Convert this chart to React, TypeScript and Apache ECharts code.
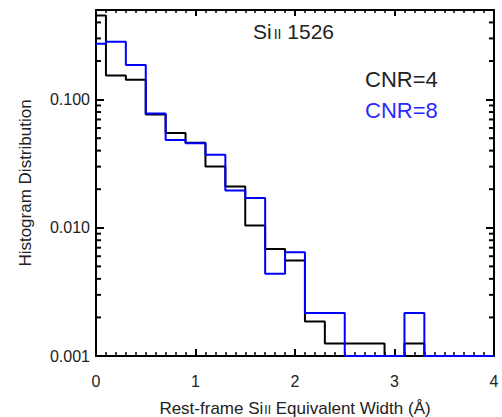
import React, { useEffect, useRef } from "react";
import * as echarts from "echarts";

// Bin centres (Å) – histogram drawn IDL psym=10 style (steps at bin mid-points)
const BIN_CENTERS = [0, 0.2, 0.4, 0.6, 0.8, 1.0, 1.2, 1.4, 1.6, 1.8, 2.0, 2.2, 2.4, 2.6, 2.8, 3.0, 3.2, 3.4, 3.6, 3.8, 4.0];
// Histogram distributions (0 = empty bin, drawn on the axis floor)
const CNR4 = [0.452, 0.154, 0.143, 0.0764, 0.055, 0.046, 0.0301, 0.021, 0.0104, 0.00684, 0.00556, 0.00186, 0.00125, 0.00125, 0.00125, 0, 0.00125, 0, 0, 0, 0];
const CNR8 = [0.273, 0.283, 0.186, 0.0778, 0.0485, 0.0456, 0.0371, 0.0195, 0.0171, 0.00438, 0.00645, 0.00216, 0.00216, 0, 0, 0, 0.00216, 0, 0, 0, 0];

const SERIES_NAMES = ["CNR=4", "CNR=8"];
const Y_MIN = 0.001;
const Y_MAX = 0.5;
const DECADES = [0.001, 0.01, 0.1];
const MINOR_MULTS = [2, 3, 4, 5, 6, 7, 8, 9];
const X_TICK_LABELS = ["0", "1", "2", "3", "4"];

const FONT = "Liberation Sans, Arial, Helvetica, sans-serif";
const TXT = "#222";
const BLUE = "#0000ff";

export default function App() {
  const ref = useRef<HTMLDivElement>(null);
  useEffect(() => {
    if (!ref.current) return;
    const chart = echarts.init(ref.current, null, { renderer: "svg" });
    const floorIt = (arr: number[]) => arr.map((v, i) => [BIN_CENTERS[i], v > 0 ? v : Y_MIN]);
    const minorTicks: number[][] = [];
    DECADES.forEach((d) =>
      MINOR_MULTS.forEach((m) => {
        const v = d * m;
        if (v < Y_MAX) minorTicks.push([0, v]);
      })
    );
    const xAxisBase = {
      type: "value",
      min: 0,
      max: 4,
      interval: 1,
      axisLine: { show: true, onZero: false, lineStyle: { color: "#000", width: 2 } },
      axisTick: { show: true, inside: true, length: 7, lineStyle: { color: "#000", width: 2 } },
      minorTick: { show: true, splitNumber: 10, length: 4, lineStyle: { color: "#000", width: 1.5 } },
      splitLine: { show: false },
      minorSplitLine: { show: false },
    };
    const yAxisBase = {
      type: "log",
      logBase: 10,
      min: Y_MIN,
      max: Y_MAX,
      interval: 1,
      axisLine: { show: true, onZero: false, lineStyle: { color: "#000", width: 2 } },
      axisTick: { show: true, inside: true, length: 8, lineStyle: { color: "#000", width: 2 } },
      splitLine: { show: false },
    };
    const option: any = {
      animation: false,
      backgroundColor: "#fff",
      textStyle: { fontFamily: FONT },
      grid: { left: 96, right: 8, top: 10, bottom: 61, containLabel: false, outerBoundsMode: "none" },
      title: {
        text: "{a|Si}{b|II}{a| 1526}",
        left: 253,
        top: 21,
        padding: 0,
        textStyle: {
          fontWeight: "normal",
          rich: {
            a: { fontSize: 21, color: TXT, fontFamily: FONT, fontWeight: "normal" },
            b: { fontSize: 14, color: TXT, fontFamily: FONT, fontWeight: "normal", padding: [4, 0, 0, 2] },
          },
        },
      },
      legend: {
        orient: "vertical",
        left: 355,
        top: 63,
        icon: "none",
        itemWidth: 0,
        itemHeight: 22,
        itemGap: 9,
        selectedMode: false,
        data: [
          { name: SERIES_NAMES[0], textStyle: { color: TXT, fontSize: 22, fontFamily: FONT } },
          { name: SERIES_NAMES[1], textStyle: { color: "#2a2aff", fontSize: 22, fontFamily: FONT } },
        ],
        textStyle: { fontSize: 22, fontFamily: FONT },
      },
      xAxis: [
        {
          ...xAxisBase,
          position: "bottom",
          name: "{n|Rest-frame Si}{s|II}{n| Equivalent Width (Å)}",
          nameLocation: "middle",
          nameGap: 44,
          nameTextStyle: {
            rich: {
              n: { fontSize: 17, color: TXT, fontFamily: FONT },
              s: { fontSize: 12, color: TXT, fontFamily: FONT, padding: [3, 0, 0, 1] },
            },
          },
          axisLabel: {
            show: true,
            margin: 17,
            fontSize: 16,
            color: TXT,
            fontFamily: FONT,
            formatter: (v: number) => X_TICK_LABELS[Math.round(v)] ?? "",
          },
        },
        {
          ...xAxisBase,
          position: "top",
          axisTick: { ...xAxisBase.axisTick, length: 6 },
          minorTick: { ...xAxisBase.minorTick, length: 3 },
          axisLabel: { show: false },
        },
      ],
      yAxis: [
        {
          ...yAxisBase,
          position: "left",
          name: "Histogram Distribution",
          nameLocation: "middle",
          nameGap: 62,
          nameRotate: 90,
          nameTextStyle: { fontSize: 17, color: TXT, fontFamily: FONT },
          axisLabel: {
            show: true,
            margin: 6,
            fontSize: 16,
            color: TXT,
            fontFamily: FONT,
            showMaxLabel: false,
            formatter: (v: number) => v.toFixed(3),
          },
        },
        {
          ...yAxisBase,
          position: "right",
          axisLabel: { show: false },
        },
      ],
      series: [
        {
          name: SERIES_NAMES[0],
          type: "line",
          step: "middle",
          data: floorIt(CNR4),
          showSymbol: false,
          symbol: "none",
          lineStyle: { color: "#000", width: 2 },
          itemStyle: { color: "#000" },
          z: 3,
        },
        {
          name: SERIES_NAMES[1],
          type: "line",
          step: "middle",
          data: floorIt(CNR8),
          showSymbol: false,
          symbol: "none",
          lineStyle: { color: BLUE, width: 2 },
          itemStyle: { color: BLUE },
          z: 4,
        },
        {
          name: "minorTicks",
          type: "custom",
          silent: true,
          data: minorTicks,
          renderItem: (params: any, api: any) => {
            const y = api.coord([0, api.value(1)])[1];
            const cs = params.coordSys;
            const st = { stroke: "#000", lineWidth: 2 };
            return {
              type: "group",
              children: [
                { type: "line", shape: { x1: cs.x, y1: y, x2: cs.x + 5, y2: y }, style: st },
                { type: "line", shape: { x1: cs.x + cs.width - 5, y1: y, x2: cs.x + cs.width, y2: y }, style: st },
              ],
            };
          },
          z: 5,
        },
      ],
    };
    chart.setOption(option);
    return () => chart.dispose();
  }, []);
  return (
    <div
      ref={ref}
      style={{ position: "fixed", left: 0, top: 0, width: 502, height: 417, background: "#fff" }}
    />
  );
}
